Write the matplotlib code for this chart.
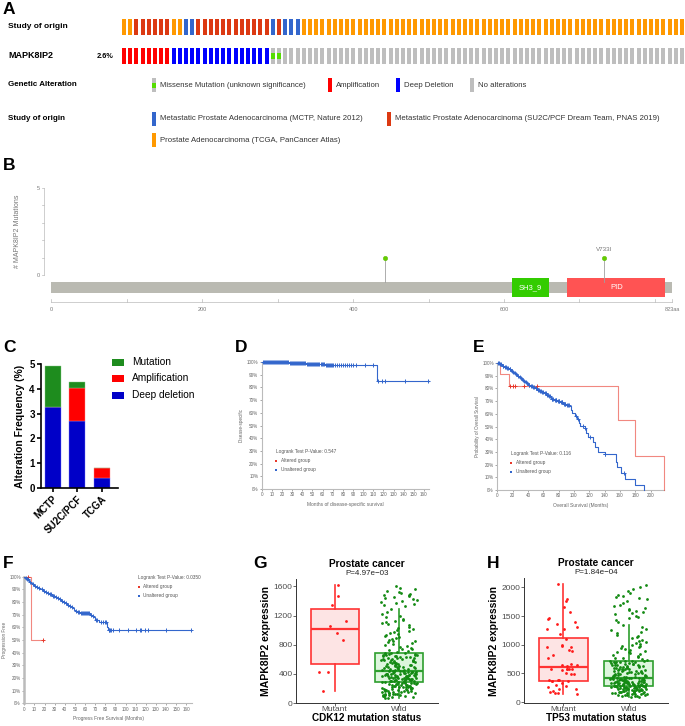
import numpy as np
import matplotlib
matplotlib.use("Agg")
import matplotlib.pyplot as plt
from matplotlib.patches import Rectangle

plt.rcParams['font.family'] = ['Liberation Sans', 'DejaVu Sans']

# ======================= DATA =======================
# ---- Panel A: oncoprint (visible columns) ----
study_of_origin = (["TCGA"] * 2 + ["SU2C"] * 6 + ["TCGA"] * 2 + ["MCTP"] * 2 +
                   ["SU2C"] * 12 + ["MCTP"] + ["SU2C"] + ["MCTP"] * 3 + ["TCGA"] * 62)
alteration = ["AMP"] * 8 + ["HOMDEL"] * 16 + ["MISSENSE"] * 2 + ["NONE"] * 65
altered_pct = "2.6%"
study_colors = {"MCTP": "#3366CC", "SU2C": "#DC3912", "TCGA": "#FF9900"}
alt_colors = {"AMP": "#FF0000", "HOMDEL": "#0000FF", "MISSENSE": "#BEBEBE", "NONE": "#BEBEBE"}
alt_legend = [("MISSENSE", "Missense Mutation (unknown significance)"),
              ("AMP", "Amplification"), ("HOMDEL", "Deep Deletion"), ("NONE", "No alterations")]
study_legend = [("MCTP", "Metastatic Prostate Adenocarcinoma (MCTP, Nature 2012)"),
                ("SU2C", "Metastatic Prostate Adenocarcinoma (SU2C/PCF Dream Team, PNAS 2019)"),
                ("TCGA", "Prostate Adenocarcinoma (TCGA, PanCancer Atlas)")]

# ---- Panel B: lollipop ----
protein_length = 823
domain_names = ["SH3_9", "PID"]
domain_starts = [611, 684]
domain_ends = [660, 814]
domain_colors = ["#33CC00", "#FF5353"]
mut_positions = [442, 733]
mut_counts = [1, 1]
mut_labels = ["", "V733I"]

# ---- Panel C: alteration frequency ----
c_studies = ["MCTP", "SU2C/PCF", "TCGA"]
c_deep_deletion = [3.28, 2.70, 0.40]
c_amplification = [0.0, 1.35, 0.40]
c_mutation = [1.64, 0.23, 0.0]

# ---- Panel D: disease-specific survival ----
d_blue_t = [0, 27, 44, 62, 114]
d_blue_s = [100, 99.2, 98.4, 97.4, 85.3]
d_blue_end = 165
d_blue_cens = [1, 2, 3, 4, 5, 6, 7, 8, 9, 10, 11, 12, 13, 14, 15, 16, 17, 18, 19, 20, 21, 22, 23, 24, 25, 26,
               28, 29, 30, 31, 32, 33, 34, 35, 36, 37, 38, 39, 40, 41, 42, 43, 45, 46, 47, 48, 49, 50, 51, 52,
               53, 54, 55, 56, 57, 58, 59, 60, 61, 63, 64, 65, 66, 67, 68, 69, 70, 72, 74, 76, 78, 80, 82, 84,
               86, 88, 90, 93, 102, 110, 115, 119, 122, 141, 164]
d_pvalue = "0.547"

# ---- Panel E: overall survival ----
e_blue_t = [0, 3, 6, 9, 12, 15, 18, 20, 22, 24, 26, 28, 30, 32, 34, 36, 38, 40, 43, 46, 49, 52, 55, 58, 61,
            64, 67, 70, 74, 78, 82, 86, 90, 94, 96, 97, 101, 104, 106, 108, 114, 116, 119, 125, 128, 131,
            140, 155, 156, 161, 167, 180, 192]
e_blue_s = [100, 99, 98, 97, 96, 95, 94, 93, 92, 91, 90, 89, 88, 87, 86, 85, 84, 83, 82, 81, 80, 79, 78, 77,
            76, 75, 74, 72, 71, 70, 69, 68, 67, 66, 63, 60.5, 58, 56, 53, 50.5, 48.7, 45, 42, 38, 34, 30,
            28, 22, 18.4, 13, 8.4, 4, 0]
e_blue_end = 192
e_blue_cens = [1, 2, 4, 5, 7, 8, 10, 11, 13, 14, 16, 17, 19, 21, 23, 25, 27, 29, 31, 33, 35, 37, 39, 41, 42,
               44, 45, 47, 48, 50, 51, 53, 54, 56, 57, 59, 60, 62, 63, 65, 66, 68, 69, 71, 72, 73, 75, 76, 77,
               79, 80, 81, 83, 84, 85, 87, 88, 89, 91, 92, 93, 103, 105, 112, 114, 121, 140, 141, 165]
e_red_t = [0, 3, 15, 157, 180, 218]
e_red_s = [100, 91, 82, 55, 27, 0]
e_red_end = 218
e_red_cens = [16, 20, 23, 35, 52]
e_pvalue = "0.116"

# ---- Panel F: progression-free survival ----
f_blue_t = [0, 1, 2, 4, 5, 7, 8, 10, 12, 14, 16, 18, 20, 22, 24, 27, 30, 32, 34, 36, 38, 40, 42, 44, 46, 48,
            49, 50, 52, 55, 65, 67, 69, 70, 74, 82, 83]
f_blue_s = [100, 99, 98, 97, 96, 95, 94, 93, 92, 91, 90, 89, 88, 87, 86, 85, 84, 83, 82, 81, 80, 79, 78, 77,
            76, 75, 74, 73, 72, 71, 70, 69, 68, 66, 64, 60, 58]
f_blue_end = 165
f_blue_cens = [1.5, 3, 3.5, 6, 9, 11, 13, 15, 17, 19, 21, 23, 25, 26, 28, 29, 31, 33, 35, 37, 39, 41, 43, 45,
               47, 51, 53, 54, 56, 57, 58, 59, 60, 61, 62, 63, 64, 66, 68, 71, 72, 76, 78, 80, 81, 83.5, 84,
               85, 86, 88, 94, 102, 110, 114, 115, 119, 122, 140, 165]
f_red_t = [0, 7]
f_red_s = [100, 50]
f_red_end = 18
f_red_cens = [4, 18]
f_pvalue = "0.0350"

# ---- Panel G: CDK12 status ----
g_mutant = [1622, 1470, 1345, 1122, 1064, 961, 867, 429, 425, 165]
g_wild = [65, 72, 80, 85, 90, 95, 100, 104, 108, 112, 115, 120, 124, 128, 130, 135, 138, 142, 145, 150,
          152, 156, 160, 163, 167, 170, 173, 176, 180, 183, 186, 190, 193, 196, 200, 203, 206, 210, 213, 216,
          220, 223, 226, 230, 233, 236, 240, 243, 246, 250, 253, 256, 260, 263, 266, 270, 273, 276, 279, 281,
          284, 287, 289, 292, 294, 297, 299, 302, 304, 307, 309, 312, 314, 317, 319, 322, 324, 327, 329, 332,
          334, 337, 340, 342, 345, 347, 350, 352, 355, 357, 360, 362, 365, 367, 370, 372, 375, 377, 380, 382,
          385, 387, 390, 392, 395, 397, 400, 402, 405, 407, 410, 412, 415, 417, 420, 422, 425, 427, 430, 433,
          437, 441, 445, 450, 454, 458, 462, 467, 471, 475, 480, 484, 488, 493, 497, 501, 506, 510, 514, 519,
          523, 527, 532, 536, 540, 545, 549, 553, 558, 562, 566, 571, 575, 579, 584, 588, 592, 597, 601, 605,
          610, 614, 618, 623, 627, 631, 636, 640, 644, 649, 653, 657, 662, 666, 670, 675, 679, 683, 687, 691,
          700, 712, 725, 735, 748, 760, 772, 785, 795, 808, 820, 832, 845, 858, 870, 882, 895, 908, 920, 935,
          948, 960, 975, 990, 1005, 1020, 1035, 1050, 1065, 1080, 1095, 1110, 1125, 1140, 1160, 1180, 1200,
          1225, 1255, 1290, 1330, 1345, 1360, 1375, 1390, 1400, 1415, 1430, 1440, 1455, 1470, 1480, 1490,
          1500, 1515, 1530, 1545, 1560, 1585, 1610]
g_pvalue = "P=4.97e\u221203"

# ---- Panel H: TP53 status ----
h_mutant = [2060, 1801, 1761, 1665, 1574, 1460, 1455, 1403, 1358, 1301, 1278, 1267, 1193, 1097, 994, 977,
            966, 955, 909, 892, 824, 767, 665, 653, 642, 625, 585, 568, 568, 568, 568, 562, 511, 483, 483,
            381, 381, 381, 369, 369, 369, 335, 295, 284, 256, 227, 227, 199, 182, 153, 153, 142]
h_wild = [85, 92, 98, 104, 110, 115, 120, 125, 130, 134, 138, 142, 146, 150, 154, 158, 162, 165, 168, 172,
          175, 178, 182, 185, 188, 192, 195, 198, 202, 205, 208, 212, 215, 218, 221, 224, 227, 230, 233, 236,
          239, 242, 245, 248, 251, 253, 256, 258, 260, 262, 264, 266, 268, 270, 272, 273, 274, 275, 276, 277,
          280, 282, 285, 287, 290, 292, 295, 297, 300, 302, 305, 307, 310, 312, 315, 317, 320, 322, 325, 327,
          330, 332, 335, 337, 340, 342, 345, 347, 350, 352, 355, 357, 360, 362, 365, 367, 370, 372, 375, 377,
          380, 382, 385, 387, 390, 392, 395, 397, 400, 402, 405, 407, 410, 412, 415, 417, 419, 421, 423, 425,
          430, 435, 440, 445, 450, 455, 460, 465, 470, 475, 480, 485, 490, 495, 500, 505, 510, 515, 520, 525,
          530, 535, 540, 545, 550, 555, 560, 565, 570, 575, 580, 585, 590, 595, 600, 605, 610, 615, 620, 625,
          630, 635, 640, 645, 650, 655, 660, 665, 670, 675, 680, 685, 690, 695, 700, 705, 710, 714, 718, 721,
          730, 745, 760, 775, 790, 805, 820, 835, 850, 865, 880, 895, 910, 925, 940, 955, 970, 985, 1000,
          1015, 1030, 1050, 1070, 1090, 1110, 1130, 1150, 1175, 1200, 1225, 1250, 1280, 1310, 1347, 1400,
          1430, 1460, 1490, 1510, 1530, 1550, 1570, 1590, 1610, 1630, 1650, 1680, 1700, 1730, 1760, 1790,
          1810, 1830, 1850, 1870, 1900, 1940, 1970, 2000, 2040]
h_pvalue = "P=1.84e\u221204"

# ======================= FIGURE =======================
W, H = 685, 726
fig = plt.figure(figsize=(W / 100, H / 100), dpi=100)


def px_axes(l, t, r, b):
    return fig.add_axes([l / W, 1 - b / H, (r - l) / W, (b - t) / H])


# ---------------- Panel A ----------------
ax_a = px_axes(122, 12, 685, 70)
pitch = 6.2
ax_a.set_xlim(0, 563 / pitch)
ax_a.set_ylim(1.483, -0.517)
ax_a.axis('off')
bw, bh = 0.65, 0.55
for i, (st, al) in enumerate(zip(study_of_origin, alteration)):
    ax_a.add_patch(Rectangle((i, -bh / 2), bw, bh, color=study_colors[st], lw=0))
    ax_a.add_patch(Rectangle((i, 1 - bh / 2), bw, bh, color=alt_colors[al], lw=0))
    if al == "MISSENSE":
        ax_a.add_patch(Rectangle((i, 1 - bh / 6), bw, bh / 3, color="#55DD00", lw=0))

# ---------------- Panel B ----------------
ax_b = px_axes(40, 180, 680, 310)
ax_b.set_xlim(-15.25, 833.5)
ax_b.set_ylim(-2.01, 5.46)
ax_b.axis('off')
ax_b.add_patch(Rectangle((0, -1.034), protein_length, 0.632, color="#BABAB2", lw=0))
for nm, s, e, c in zip(domain_names, domain_starts, domain_ends, domain_colors):
    ax_b.add_patch(Rectangle((s, -1.264), e - s, 1.092, color=c, lw=0))
    ax_b.text((s + e) / 2, -0.718, nm, color="white", fontsize=5.5, ha='center', va='center')
for p, c, lab in zip(mut_positions, mut_counts, mut_labels):
    ax_b.plot([p, p], [-0.40, c], color="#A0A0A0", lw=0.6)
    ax_b.plot(p, c, 'o', color="#66CC00", ms=3.2, mec="#55BB00", mew=0.3)
    if lab:
        ax_b.text(p, c + 0.48, lab, color="#777777", fontsize=4.5, ha='center', va='center')
# y axis
ax_b.plot([-9.9, -9.9], [0, 5], color="#BBBBBB", lw=0.5, clip_on=False)
for v in range(0, 6):
    ax_b.plot([-13, -9.9], [v, v], color="#BBBBBB", lw=0.5, clip_on=False)
for v in [0, 5]:
    ax_b.text(-16, v, str(v), color="#777777", fontsize=4, ha='right', va='center', clip_on=False)
ax_b.text(-45, 2.5, "# MAPK8IP2 Mutations", rotation=90, color="#777777", fontsize=5,
          ha='center', va='center', clip_on=False)
# x axis
ax_b.plot([0, protein_length], [-1.55, -1.55], color="#BBBBBB", lw=0.5, clip_on=False)
for v in list(range(0, 801, 100)) + [protein_length]:
    ax_b.plot([v, v], [-1.55, -1.36], color="#BBBBBB", lw=0.5, clip_on=False)
for v in [0, 200, 400, 600]:
    ax_b.text(v, -2.0, str(v), color="#777777", fontsize=4, ha='center', va='center', clip_on=False)
ax_b.text(protein_length, -2.0, f"{protein_length}aa", color="#777777", fontsize=4,
          ha='center', va='center', clip_on=False)

# ---------------- Panel C ----------------
ax_c = px_axes(41, 364, 118, 488)
xc = np.arange(len(c_studies))
cw = 0.65
dd = np.array(c_deep_deletion)
am = np.array(c_amplification)
mu = np.array(c_mutation)
ax_c.bar(xc, dd, width=cw, color="#0000C8", edgecolor="#7777FF", lw=0.3)
ax_c.bar(xc, am, width=cw, bottom=dd, color="#FF0000", edgecolor="#FF8888", lw=0.3)
ax_c.bar(xc, mu, width=cw, bottom=dd + am, color="#1E8C1E", edgecolor="#88CC88", lw=0.3)
ax_c.set_xlim(-0.47, 2.65)
ax_c.set_ylim(0, 5)
for s in ['top', 'right']:
    ax_c.spines[s].set_visible(False)
for s in ['left', 'bottom']:
    ax_c.spines[s].set_linewidth(1.2)
ax_c.set_yticks(range(0, 6))
ax_c.set_xticks(xc)
ax_c.set_xticklabels(c_studies, rotation=45, ha='right', rotation_mode='anchor', fontsize=7, fontweight='bold')
ax_c.tick_params(width=1.2, length=3, labelsize=7, pad=1.5)
for t in ax_c.get_yticklabels():
    t.set_fontweight('bold')
ax_c.set_ylabel("Alteration Frequency (%)", fontsize=7.5, fontweight='bold', labelpad=3)


# ---------------- KM helpers ----------------
def km_curve(ax, t, s, end, cens, color, lw=0.8, alpha=1.0, ms=2.4):
    tt = list(t) + [end]
    ss = list(s) + [s[-1]]
    ax.step(tt, ss, where='post', color=color, lw=lw, alpha=alpha, clip_on=False, zorder=3)
    idx = np.searchsorted(np.array(t), np.array(cens), side='right') - 1
    ax.plot(cens, np.array(s)[idx], '+', color=color, ms=ms, mew=0.7, clip_on=False, zorder=4)


def km_style(ax, xmax, xstep, xticks_max, ylabel, xlabel, lw_left=0.8):
    ax.set_xlim(0, xmax)
    ax.set_ylim(0, 100)
    for s in ['top', 'right']:
        ax.spines[s].set_visible(False)
    ax.spines['left'].set_color("#BBBBBB")
    ax.spines['left'].set_linewidth(lw_left)
    ax.spines['bottom'].set_color("#BBBBBB")
    ax.spines['bottom'].set_linewidth(0.8)
    ax.set_yticks(range(0, 101, 10))
    ax.set_yticklabels([f"{v}%" for v in range(0, 101, 10)])
    ax.set_xticks(range(0, xticks_max + 1, xstep))
    ax.tick_params(labelsize=3.3, colors="#666666", length=1.5, width=0.4, pad=1)
    ax.set_ylabel(ylabel, fontsize=3.3, color="#666666", labelpad=2)
    ax.set_xlabel(xlabel, fontsize=3.5, color="#666666", labelpad=3)


RED_KM = "#E8392B"
BLUE_KM = "#3366CC"

# Panel D
ax_d = px_axes(261.7, 362, 429, 489)
km_style(ax_d, 165, 10, 160, "Disease-specific", "Months of disease-specific survival")
km_curve(ax_d, d_blue_t, d_blue_s, d_blue_end, d_blue_cens, BLUE_KM)

# Panel E
ax_e = px_axes(497.3, 363, 664.3, 490)
km_style(ax_e, 218, 20, 200, "Probability of Overall Survival", "Overall Survival (Months)")
km_curve(ax_e, e_red_t, e_red_s, e_red_end, e_red_cens, RED_KM, lw=0.8, alpha=0.6)
km_curve(ax_e, e_blue_t, e_blue_s, e_blue_end, e_blue_cens, BLUE_KM)

# Panel F
ax_f = px_axes(24.3, 576.7, 192.3, 703.3)
km_style(ax_f, 166, 10, 160, "Progression Free", "Progress Free Survival (Months)", lw_left=1.8)
km_curve(ax_f, f_red_t, f_red_s, f_red_end, f_red_cens, RED_KM, lw=0.8, alpha=0.6)
km_curve(ax_f, f_blue_t, f_blue_s, f_blue_end, f_blue_cens, BLUE_KM)


# ---------------- Panels G / H ----------------
def jitter(n, width, seed):
    # deterministic hash-based horizontal jitter (position only)
    k = np.arange(n) + seed
    frac = np.abs(np.sin(k * 12.9898 + 78.233) * 43758.5453) % 1
    return (frac - 0.5) * 2 * width


def box_panel(ax, mut, wild, ylim, yticks, title, pval, xlabel, seed):
    cols = [("#FF3333", "#FDE4E4", "#FF1A1A"), ("#2E9E2E", "#DDF6DD", "#138A13")]
    bp = ax.boxplot([mut, wild], positions=[1, 2], widths=0.75, patch_artist=True,
                    showfliers=False, showcaps=False, whis=1.5, zorder=2)
    for k, (ec, fc, pc) in enumerate(cols):
        bp['boxes'][k].set(facecolor=fc, edgecolor=ec, linewidth=1.2)
        bp['medians'][k].set(color=ec, linewidth=1.6)
        for w in bp['whiskers'][2 * k:2 * k + 2]:
            w.set(color=ec, linewidth=1.2)
    for k, (vals, (ec, fc, pc)) in enumerate(zip([mut, wild], cols)):
        xs = k + 1 + jitter(len(vals), 0.25 if k == 0 else 0.28, seed + 300 * k)
        ax.plot(xs, vals, 'o', color=pc, ms=2.0, mew=0, zorder=3)
    ax.set_xlim(0.4, 2.6)
    ax.set_ylim(*ylim)
    ax.set_yticks(yticks)
    ax.set_xticks([1, 2])
    ax.set_xticklabels(["Mutant", "Wild"])
    for s in ['top', 'right']:
        ax.spines[s].set_visible(False)
    for s in ['left', 'bottom']:
        ax.spines[s].set_color("#333333")
        ax.spines[s].set_linewidth(0.7)
    ax.tick_params(labelsize=6.0, colors="#4D4D4D", length=2, width=0.6, pad=0.5)
    ax.set_ylabel("MAPK8IP2 expression", fontsize=7.5, fontweight='bold', labelpad=2)
    ax.set_xlabel(xlabel, fontsize=7.2, fontweight='bold', labelpad=-0.5)
    ax.text(1.5, 1.12, title, transform=ax.get_xaxis_transform(), ha='center', va='center',
            fontsize=7.3, fontweight='bold')
    ax.text(1.5, 1.045, pval, transform=ax.get_xaxis_transform(), ha='center', va='center',
            fontsize=5.8, color="#222222")


ax_g = px_axes(296, 579, 438, 703)
box_panel(ax_g, g_mutant, g_wild, (0, 1703), [0, 400, 800, 1200, 1600], "Prostate cancer", g_pvalue,
          "CDK12 mutation status", 11)
ax_h = px_axes(524, 578, 668, 703)
box_panel(ax_h, h_mutant, h_wild, (-17, 2165), [0, 500, 1000, 1500, 2000], "Prostate cancer", h_pvalue,
          "TP53 mutation status", 57)

# ---------------- Overlay text / legends (pixel coords) ----------------
ax_t = fig.add_axes([0, 0, 1, 1])
ax_t.set_xlim(0, W)
ax_t.set_ylim(H, 0)
ax_t.axis('off')
ax_t.patch.set_alpha(0)

for lab, x, y in [("A", 3, 9), ("B", 3, 166), ("C", 3, 348), ("D", 235, 347), ("E", 473, 347),
                  ("F", 3, 563), ("G", 253, 563), ("H", 487, 563)]:
    ax_t.text(x, y, lab, fontsize=12.5, fontweight='bold', ha='left', va='center')

ax_t.text(8, 27, "Study of origin", fontsize=6, fontweight='bold', va='center')
ax_t.text(8, 56, "MAPK8IP2", fontsize=6.5, fontweight='bold', va='center')
ax_t.text(114, 56, altered_pct, fontsize=5.3, fontweight='bold', va='center', ha='right')
ax_t.text(8, 84, "Genetic Alteration", fontsize=5.8, fontweight='bold', va='center')
ax_t.text(8, 118, "Study of origin", fontsize=5.8, fontweight='bold', va='center')

# alteration legend
alt_x = [152, 328, 396, 470]
for (key, txt), x in zip(alt_legend, alt_x):
    ax_t.add_patch(Rectangle((x, 78), 4, 14, color=alt_colors[key], lw=0))
    if key == "MISSENSE":
        ax_t.add_patch(Rectangle((x, 82.5), 4, 5, color="#55DD00", lw=0))
    ax_t.text(x + 8, 85.5, txt, fontsize=5.6, color="#333333", va='center')
# study legend
st_pos = [(152, 118.5), (387, 118.5), (152, 140)]
for (key, txt), (x, y) in zip(study_legend, st_pos):
    ax_t.add_patch(Rectangle((x, y - 7), 4, 14, color=study_colors[key], lw=0))
    ax_t.text(x + 8, y, txt, fontsize=5.6, color="#333333", va='center')

# C legend
for (lab, col), y in zip([("Mutation", "#1E8C1E"), ("Amplification", "#FF0000"),
                          ("Deep deletion", "#0000C8")], [362, 378, 395]):
    ax_t.add_patch(Rectangle((112, y - 3.5), 12, 7, color=col, lw=0))
    ax_t.text(132, y, lab, fontsize=7.3, va='center')


# KM legends
def km_legend(x, y, p):
    ax_t.text(x, y, f"Logrank Test P-Value: {p}", fontsize=3.4, color="#555555", va='center')
    ax_t.plot(x + 0.5, y + 9.5, 's', color=RED_KM, ms=2.0, mew=0)
    ax_t.text(x + 5, y + 9.5, "Altered group", fontsize=3.4, color="#555555", va='center')
    ax_t.plot(x + 0.5, y + 19, 's', color=BLUE_KM, ms=2.0, mew=0)
    ax_t.text(x + 5, y + 19, "Unaltered group", fontsize=3.4, color="#555555", va='center')


km_legend(276, 451, d_pvalue)
km_legend(511, 453, e_pvalue)
km_legend(138.5, 577, f_pvalue)

fig.savefig("out.png", dpi=100)
